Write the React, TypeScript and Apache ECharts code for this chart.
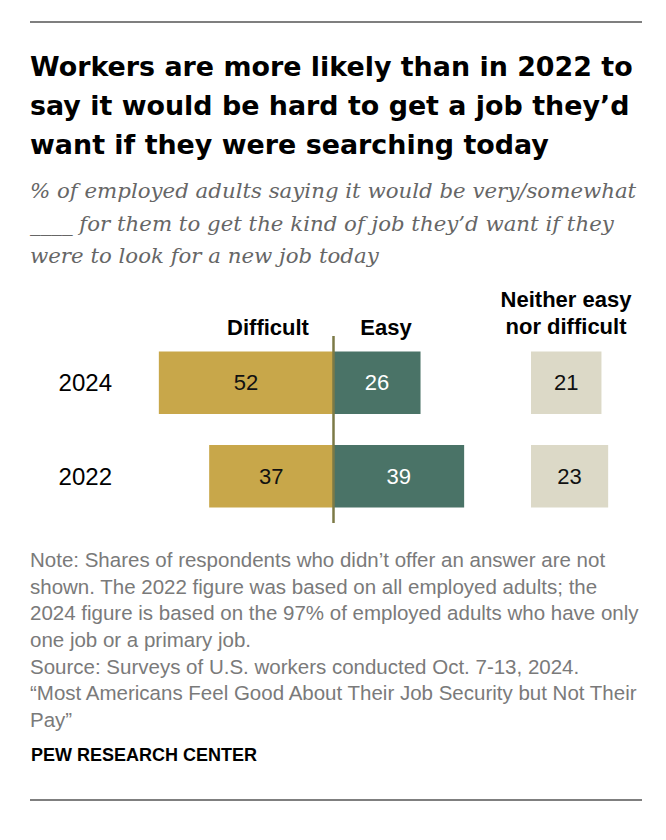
import React, { useEffect, useRef } from "react";
import * as echarts from "echarts";

const years = ["2024", "2022"];
const difficult = [52, 37];
const easy = [26, 39];
const neither = [21, 23];

const titleLines = [
  "Workers are more likely than in 2022 to",
  "say it would be hard to get a job they’d",
  "want if they were searching today",
];
const subtitleLines = [
  "% of employed adults saying it would be very/somewhat",
  "____ for them to get the kind of job they’d want if they",
  "were to look for a new job today",
];
const noteLines = [
  "Note: Shares of respondents who didn’t offer an answer are not",
  "shown. The 2022 figure was based on all employed adults; the",
  "2024 figure is based on the 97% of employed adults who have only",
  "one job or a primary job.",
  "Source: Surveys of U.S. workers conducted Oct. 7-13, 2024.",
  "“Most Americans Feel Good About Their Job Security but Not Their",
  "Pay”",
];
const headerDifficult = "Difficult";
const headerEasy = "Easy";
const headerNeither = "Neither easy\nnor difficult";
const sourceLabel = "PEW RESEARCH CENTER";

const SANS = "'Liberation Sans', Arial, sans-serif";
const TITLE = "'DejaVu Sans', 'Liberation Sans', sans-serif";
const SERIF = "'DejaVu Serif', Georgia, serif";

const C_DIFF = "#C8A74A";
const C_EASY = "#4A7367";
const C_NEITHER = "#DCD9C7";
const C_DIVIDER = "#7C7A46";

export default function App() {
  const ref = useRef<HTMLDivElement>(null);

  useEffect(() => {
    if (!ref.current) return;
    const chart = echarts.init(ref.current, null, { renderer: "svg" });

    const gridTop = 336;
    const gridHeight = 187;

    const option: any = {
      animation: false,
      backgroundColor: "#ffffff",
      grid: [
        { left: 132, width: 369.05, top: gridTop, height: gridHeight, containLabel: false },
        { left: 531, width: 100.65, top: gridTop, height: gridHeight, containLabel: false },
      ],
      xAxis: [
        { type: "value", gridIndex: 0, min: -60, max: 50, show: false },
        { type: "value", gridIndex: 1, min: 0, max: 30, show: false },
      ],
      yAxis: [
        {
          type: "category",
          gridIndex: 0,
          data: years,
          inverse: true,
          axisLine: { show: false, onZero: false },
          axisTick: { show: false },
          splitLine: { show: false },
          axisLabel: {
            margin: 20,
            fontSize: 24,
            fontFamily: SANS,
            color: "#000",
          },
        },
        {
          type: "category",
          gridIndex: 1,
          data: years,
          inverse: true,
          show: false,
        },
      ],
      series: [
        {
          name: "Difficult",
          type: "bar",
          xAxisIndex: 0,
          yAxisIndex: 0,
          stack: "total",
          barWidth: 62.5,
          data: difficult.map((v) => -v),
          itemStyle: { color: C_DIFF },
          label: {
            show: true,
            position: "inside",
            formatter: (p: any) => String(Math.abs(p.value)),
            fontSize: 22,
            fontFamily: SANS,
            color: "#111",
          },
        },
        {
          name: "Easy",
          type: "bar",
          xAxisIndex: 0,
          yAxisIndex: 0,
          stack: "total",
          barWidth: 62.5,
          data: easy,
          itemStyle: { color: C_EASY },
          label: {
            show: true,
            position: "inside",
            fontSize: 22,
            fontFamily: SANS,
            color: "#fff",
          },
          markLine: {
            silent: true,
            symbol: "none",
            label: { show: false },
            lineStyle: { color: C_DIVIDER, width: 2.5, type: "solid" },
            data: [{ xAxis: 0 }],
          },
        },
        {
          name: "Neither",
          type: "bar",
          xAxisIndex: 1,
          yAxisIndex: 1,
          barWidth: 62.5,
          data: neither,
          itemStyle: { color: C_NEITHER },
          label: {
            show: true,
            position: "inside",
            fontSize: 22,
            fontFamily: SANS,
            color: "#111",
          },
        },
      ],
      graphic: [
        {
          type: "line",
          shape: { x1: 30, y1: 22, x2: 642, y2: 22 },
          style: { stroke: "#555", lineWidth: 1.5 },
        },
        {
          type: "line",
          shape: { x1: 30, y1: 800, x2: 642, y2: 800 },
          style: { stroke: "#555", lineWidth: 1.5 },
        },
        {
          type: "text",
          left: 30,
          top: 46.6,
          style: {
            text: titleLines.join("\n"),
            font: `bold 26.9px ${TITLE}`,
            lineHeight: 39,
            fill: "#000",
          },
        },
        {
          type: "text",
          left: 30,
          top: 174.6,
          style: {
            text: subtitleLines.join("\n"),
            font: `italic 21.3px ${SERIF}`,
            lineHeight: 32.5,
            fill: "#666",
          },
        },
        {
          type: "text",
          x: 268,
          y: 327.3,
          style: {
            text: headerDifficult,
            font: `bold 22px ${SANS}`,
            fill: "#000",
            align: "center",
            verticalAlign: "middle",
          },
        },
        {
          type: "text",
          x: 386,
          y: 327.3,
          style: {
            text: headerEasy,
            font: `bold 22px ${SANS}`,
            fill: "#000",
            align: "center",
            verticalAlign: "middle",
          },
        },
        {
          type: "text",
          x: 566,
          y: 286.3,
          style: {
            text: headerNeither,
            font: `bold 22px ${SANS}`,
            lineHeight: 26.7,
            fill: "#000",
            align: "center",
            verticalAlign: "top",
          },
        },
        {
          type: "text",
          left: 30,
          top: 546.2,
          style: {
            text: noteLines.join("\n"),
            font: `20.5px ${SANS}`,
            lineHeight: 26.67,
            fill: "#7a7a7a",
          },
        },
        {
          type: "text",
          x: 31,
          y: 755.4,
          style: {
            text: sourceLabel,
            font: `bold 18px ${SANS}`,
            fill: "#000",
            verticalAlign: "middle",
          },
        },
      ],
    };

    chart.setOption(option);
    return () => chart.dispose();
  }, []);

  return (
    <div
      ref={ref}
      style={{ position: "absolute", left: 0, top: 0, width: 666, height: 840, background: "#fff" }}
    />
  );
}
